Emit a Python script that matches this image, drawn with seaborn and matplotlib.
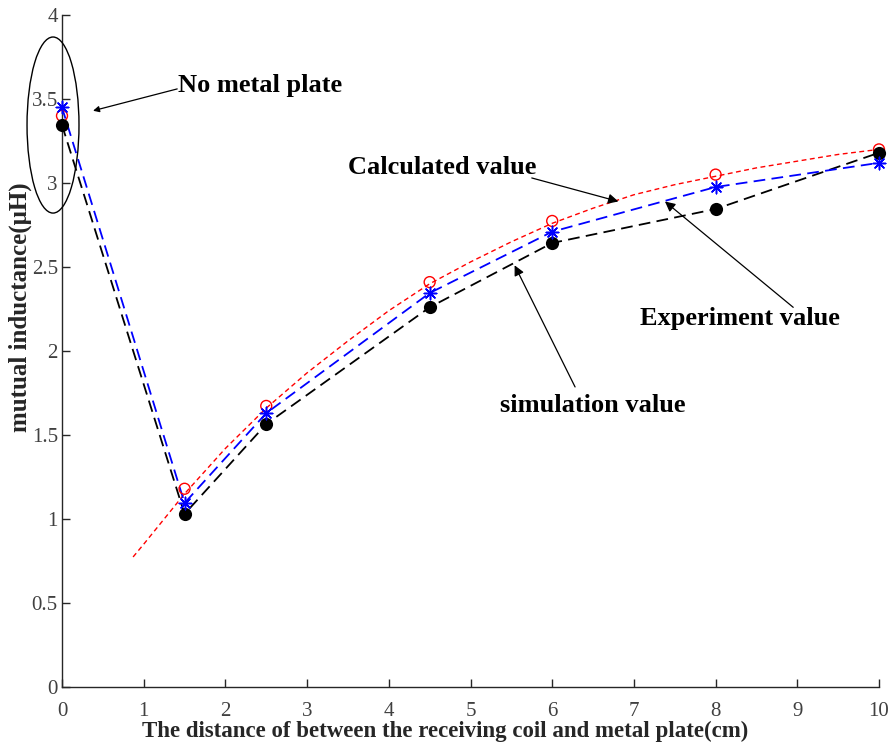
import matplotlib
matplotlib.use("Agg")
import matplotlib.pyplot as plt
from matplotlib.patches import Ellipse
import seaborn as sns
import pandas as pd

# Measured distances (cm) and mutual inductance values (uH)
distance = [0, 1.5, 2.5, 4.5, 6, 8, 10]
calculated = [3.40, 1.18, 1.673, 2.41, 2.774, 3.05, 3.20]
experiment = [3.45, 1.095, 1.63, 2.345, 2.71, 2.976, 3.12]
simulation = [3.345, 1.03, 1.565, 2.26, 2.643, 2.845, 3.18]

# Calculated (theoretical) curve
curve_x = [0.87, 1.0, 1.5, 2.0, 2.5, 3.0, 3.5, 4.0, 4.5, 5.0, 5.5, 6.0,
           6.5, 7.0, 7.5, 8.0, 8.5, 9.0, 9.5, 10.0]
curve_y = [0.774, 0.85, 1.15, 1.42, 1.66, 1.87, 2.06, 2.24, 2.40, 2.53, 2.65,
           2.76, 2.85, 2.93, 2.99, 3.04, 3.09, 3.13, 3.17, 3.20]

x_ticks = [0, 1, 2, 3, 4, 5, 6, 7, 8, 9, 10]
y_ticks = [0, 0.5, 1, 1.5, 2, 2.5, 3, 3.5, 4]
y_tick_labels = ["0", "0.5", "1", "1.5", "2", "2.5", "3", "3.5", "4"]

sns.set_theme(style="ticks")
plt.rcParams["font.family"] = ["Liberation Serif", "DejaVu Serif"]

fig = plt.figure(figsize=(8.93, 7.44), dpi=100)
ax = fig.add_axes([62 / 893, 1 - 687 / 744, (879 - 62) / 893, (687 - 15) / 744])

df_pts = pd.DataFrame({"x": distance, "calc": calculated,
                       "exp": experiment, "sim": simulation})
df_curve = pd.DataFrame({"x": curve_x, "y": curve_y})

# Dashed lines
sns.lineplot(data=df_curve, x="x", y="y", ax=ax, color="#ff0000", lw=1.0,
             estimator=None, sort=False)
ax.lines[-1].set_dashes([3.5, 2.5])
sns.lineplot(data=df_pts, x="x", y="sim", ax=ax, color="black", lw=1.3,
             estimator=None, sort=False)
ax.lines[-1].set_dashes([6.5, 3.5])
sns.lineplot(data=df_pts, x="x", y="exp", ax=ax, color="#0000ff", lw=1.3,
             estimator=None, sort=False)
ax.lines[-1].set_dashes([6.5, 3.5])

# Markers
sns.scatterplot(data=df_pts, x="x", y="calc", ax=ax, marker="o", s=62,
                linewidth=1.0, clip_on=False, zorder=4)
ax.collections[-1].set_facecolor("none")
ax.collections[-1].set_edgecolor("#ff0000")
sns.scatterplot(data=df_pts, x="x", y="sim", ax=ax, marker="o", s=90,
                color="black", linewidth=0, clip_on=False, zorder=5)
sns.scatterplot(data=df_pts, x="x", y="exp", ax=ax, marker=(8, 2, 0), s=80,
                linewidth=1.1, clip_on=False, zorder=6)
ax.collections[-1].set_edgecolor("#0000ff")
ax.collections[-1].set_facecolor("#0000ff")

ax.set_xlim(0, 10)
ax.set_ylim(0, 4)
ax.set_xticks(x_ticks)
ax.set_xticklabels([str(t) for t in x_ticks])
ax.set_yticks(y_ticks)
ax.set_yticklabels(y_tick_labels)

for side in ["top", "right"]:
    ax.spines[side].set_visible(False)
for side in ["left", "bottom"]:
    ax.spines[side].set_color("#262626")
    ax.spines[side].set_linewidth(1.0)

ax.tick_params(axis="both", which="major", direction="in", length=6, width=1.0,
               bottom=True, left=True, top=False, right=False,
               color="#262626", labelcolor="#404040", labelsize=15)
ax.tick_params(axis="x", pad=11)
ax.tick_params(axis="y", pad=3)

ax.set_xlabel("The distance of between the receiving coil and metal plate(cm)",
              fontsize=16.5, fontweight="bold")
ax.xaxis.set_label_coords(0.469, -0.0655)
ax.xaxis.label.set_va("center")
ax.set_ylabel("mutual inductance(μH)", fontsize=18, fontweight="bold")
ax.yaxis.set_label_coords(-0.051, 0.565)
ax.yaxis.label.set_va("center")

# Highlight the no-plate point
ell = Ellipse((-0.11, 3.345), width=0.636, height=1.048, fill=False,
              edgecolor="black", lw=1.0, clip_on=False, zorder=3)
ax.add_patch(ell)

txt_kw = dict(fontsize=19, fontweight="bold", color="black",
              ha="left", va="center")
ax.text(1.42, 3.58, "No metal plate", **txt_kw)
ax.text(3.50, 3.09, "Calculated value", **txt_kw)
ax.text(7.07, 2.196, "Experiment value", **txt_kw)
ax.text(5.36, 1.673, "simulation value", **txt_kw)

arrows = [
    ((1.41, 3.56), (0.38, 3.43), 6),
    ((5.75, 3.03), (6.81, 2.89), 10),
    ((8.95, 2.26), (7.38, 2.89), 10),
    ((6.28, 1.786), (5.54, 2.51), 10),
]
for tail, head, hl in arrows:
    ax.annotate("", xy=head, xytext=tail,
                arrowprops=dict(arrowstyle=f"-|>,head_length={hl/20:.2f},head_width={hl/40:.2f}",
                                color="black", lw=0.9, shrinkA=0, shrinkB=0))

fig.savefig("out.png", dpi=100)
